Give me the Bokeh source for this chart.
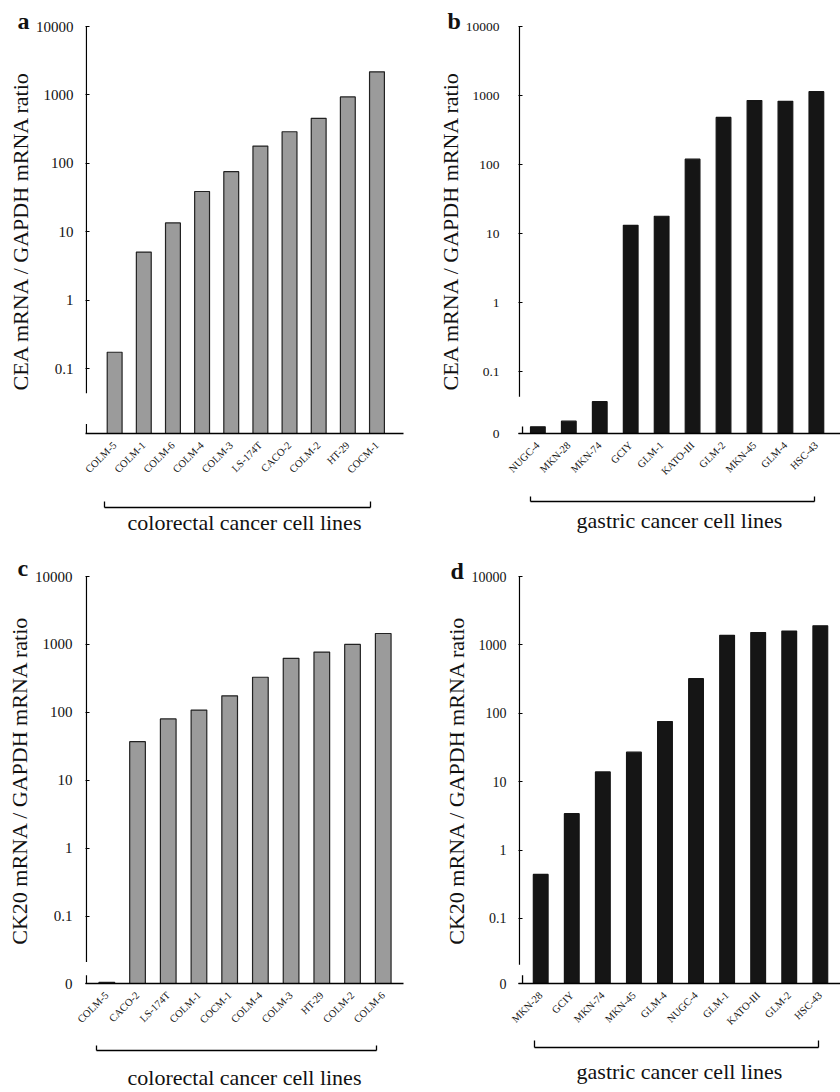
import math
from bokeh.plotting import figure
from bokeh.models import Range1d, FixedTicker, LinearAxis, LogAxis, CustomJSTickFormatter
from bokeh.layouts import gridplot
from bokeh.embed import file_html
from bokeh.resources import INLINE

FONT = "Liberation Serif"

# ---------------- data ----------------
a_names = ["COLM-5", "COLM-1", "COLM-6", "COLM-4", "COLM-3", "LS-174T", "CACO-2", "COLM-2", "HT-29", "COCM-1"]
a_vals = [0.174, 5.06, 13.5, 38.8, 75.7, 179, 290, 456, 935, 2180]

b_names = ["NUGC-4", "MKN-28", "MKN-74", "GCIY", "GLM-1", "KATO-III", "GLM-2", "MKN-45", "GLM-4", "HSC-43"]
b_vals = [0.016, 0.0193, 0.037, 13.2, 17.9, 120, 482, 845, 826, 1140]

c_names = ["COLM-5", "CACO-2", "LS-174T", "COLM-1", "COCM-1", "COLM-4", "COLM-3", "HT-29", "COLM-2", "COLM-6"]
c_vals = [0.0106, 37, 80, 108, 175, 329, 624, 773, 1000, 1449]

d_names = ["MKN-28", "GCIY", "MKN-74", "MKN-45", "GLM-4", "NUGC-4", "GLM-1", "KATO-III", "GLM-2", "HSC-43"]
d_vals = [0.44, 3.41, 13.9, 27, 75.7, 321, 1380, 1517, 1592, 1905]

y_ticks = [0.1, 1, 10, 100, 1000, 10000]
y_tick_labels = ["0.1", "1", "10", "100", "1000", "10000"]
zero_label = "0"

cea_label = "CEA mRNA / GAPDH mRNA ratio"
ck20_label = "CK20 mRNA / GAPDH mRNA ratio"
crc_group = "colorectal cancer cell lines"
gc_group = "gastric cancer cell lines"

GREY = "#9b9b9b"
BLACK = "#151515"
INK = "#111111"


def panel(letter, names, vals, ylabel, group, fill, line, cfg):
    n = len(names)
    xs = list(range(1, n + 1))
    p = figure(width=420, height=546, y_axis_type="log", title=letter,
               x_range=Range1d(cfg["x0"], cfg["x1"]),
               y_range=Range1d(cfg["y0"], 10000),
               output_backend="svg", toolbar_location=None,
               min_border_left=cfg["bl"], min_border_right=cfg["br"],
               min_border_top=cfg["bt"], min_border_bottom=cfg["bb"])
    p.outline_line_color = None
    p.xgrid.grid_line_color = None
    p.ygrid.grid_line_color = None
    p.background_fill_color = "white"
    p.border_fill_color = "white"

    # panel letter
    p.title.align = "left"
    p.title.offset = cfg["lx"]
    p.title.standoff = cfg["tso"]
    p.title.text_font = FONT
    p.title.text_font_size = "24px"
    p.title.text_font_style = "bold"
    p.title.text_color = INK

    p.vbar(x=xs, top=vals, bottom=cfg["y0"], width=cfg["w"],
           fill_color=fill, line_color=line, line_width=1.2)

    # y axis: ticks and tick labels (axis line drawn as a broken line below)
    ya = p.yaxis[0]
    ticks = list(y_ticks)
    labels = dict(zip(y_ticks, y_tick_labels))
    if cfg["zero"]:
        ticks = [cfg["y0"]] + ticks
        labels[cfg["y0"]] = zero_label
    ya.ticker = FixedTicker(ticks=ticks)
    ya.major_label_overrides = labels
    ya.axis_line_color = None
    ya.major_tick_in = 4
    ya.major_tick_out = 0
    ya.minor_tick_line_color = None
    ya.major_tick_line_width = 1.2
    ya.major_tick_line_color = "black"
    ya.major_label_standoff = cfg["ls"]
    ya.major_label_text_font = FONT
    ya.major_label_text_font_size = cfg["tfs"]
    ya.major_label_text_color = INK

    # broken y axis line: long upper part and short stub at the baseline
    p.segment(x0=[cfg["x0"] + 0.03, cfg["x0"] + cfg["stub_dx"]],
              y0=[cfg["brk"], cfg["y0"]],
              x1=[cfg["x0"] + 0.03, cfg["x0"] + cfg["stub_dx"]],
              y1=[10000, cfg["brk2"]],
              line_color="black", line_width=1.3)

    # carrier axis for the y title (centred where the reference puts it)
    la = LogAxis(ticker=FixedTicker(ticks=[]), bounds=(cfg["lb"], 10000),
                 axis_line_color=None, major_tick_line_color=None,
                 minor_tick_line_color=None, major_label_standoff=0,
                 axis_label=ylabel, axis_label_standoff=cfg["yls"],
                 axis_label_text_font=FONT, axis_label_text_font_style="normal",
                 axis_label_text_font_size="22px", axis_label_text_color=INK)
    p.add_layout(la, "left")

    # x axis with rotated cell line names
    xa = p.xaxis[0]
    xa.ticker = FixedTicker(ticks=xs)
    xa.major_label_overrides = {i: nm for i, nm in zip(xs, names)}
    xa.major_label_orientation = math.pi / 4
    xa.major_tick_line_color = None
    xa.major_tick_in = 0
    xa.major_tick_out = 0
    xa.minor_tick_line_color = None
    xa.major_label_standoff = 10
    xa.major_label_text_font = FONT
    xa.major_label_text_font_size = "10.5px"
    xa.major_label_text_color = INK
    xa.axis_line_width = 1.3
    xa.axis_label = " "
    xa.axis_label_text_font_size = cfg["spfs"]
    xa.axis_label_standoff = cfg["gap"]

    # bracket grouping the cell lines
    b0, b1 = cfg["br0"], cfg["br1"]
    ba = LinearAxis(ticker=FixedTicker(ticks=[b0, b1]), bounds=(b0, b1),
                    formatter=CustomJSTickFormatter(code="return ''"),
                    major_label_text_font_size="0px",
                    major_tick_in=cfg["btick"], major_tick_out=0,
                    major_tick_line_width=1.3,
                    minor_tick_line_color=None, axis_line_width=1.3,
                    major_label_standoff=0)
    p.add_layout(ba, "below")

    # carrier axis for the group label
    gx = cfg["gx"]
    ga = LinearAxis(ticker=FixedTicker(ticks=[]), bounds=(gx - 0.5, gx + 0.5),
                    axis_line_color=None, major_tick_line_color=None,
                    minor_tick_line_color=None, major_label_standoff=0,
                    axis_label=group, axis_label_standoff=cfg["gls"],
                    axis_label_text_font=FONT, axis_label_text_font_style="normal",
                    axis_label_text_font_size="22px", axis_label_text_color=INK)
    p.add_layout(ga, "below")
    return p


cfg_a = dict(x0=0.0, x1=10.91, y0=0.0113, bl=85, br=0, bt=26, bb=109, w=0.51,
             brk=0.0437, brk2=0.0156, stub_dx=0.03, ls=12, tfs="15px", yls=0, lb=0.0213,
             spfs="12px", gap=8, br0=0.665, br1=9.78, btick=6, gx=5.69, gls=2,
             lx=-68, tso=-14, zero=False)
cfg_b = dict(x0=0.374, x1=10.78, y0=0.0128, bl=98, br=0, bt=26, bb=113, w=0.475,
             brk=0.0437, brk2=0.0161, stub_dx=0.13, ls=19, tfs="13.5px", yls=0, lb=0.0211,
             spfs="13.5px", gap=0, br0=0.764, br1=9.95, btick=5, gx=5.99, gls=6,
             lx=-71, tso=-14, zero=True)
cfg_c = dict(x0=0.306, x1=10.66, y0=0.0102, bl=85, br=17, bt=30, bb=102, w=0.51,
             brk=0.0211, brk2=0.0135, stub_dx=0.03, ls=13, tfs="15px", yls=0, lb=0.0177,
             spfs="13px", gap=0, br0=0.665, br1=9.77, btick=5, gx=5.71, gls=14,
             lx=-68, tso=-9, zero=True)
cfg_d = dict(x0=0.285, x1=10.65, y0=0.0112, bl=98, br=0, bt=30, bb=105, w=0.475,
             brk=0.0211, brk2=0.0148, stub_dx=0.13, ls=12, tfs="14px", yls=0, lb=0.0211,
             spfs="9.5px", gap=0, br0=0.81, br1=9.95, btick=7, gx=5.98, gls=11,
             lx=-68, tso=-14, zero=True)

pa = panel("a", a_names, a_vals, cea_label, crc_group, GREY, "#222222", cfg_a)
pb = panel("b", b_names, b_vals, cea_label, gc_group, BLACK, BLACK, cfg_b)
pc = panel("c", c_names, c_vals, ck20_label, crc_group, GREY, "#222222", cfg_c)
pd_ = panel("d", d_names, d_vals, ck20_label, gc_group, BLACK, BLACK, cfg_d)

grid = gridplot([[pa, pb], [pc, pd_]], toolbar_location=None)

open("out.html", "w").write(file_html(grid, INLINE))
